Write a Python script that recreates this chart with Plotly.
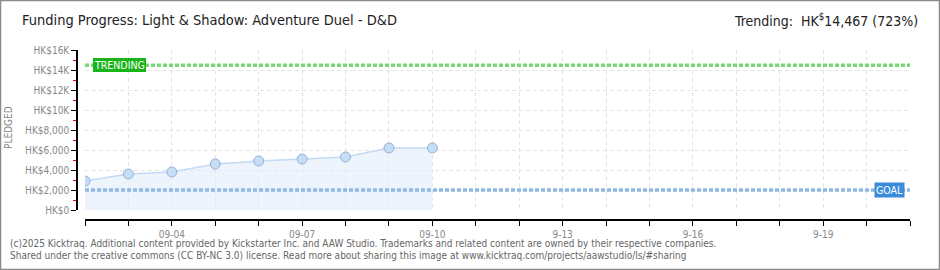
import plotly.graph_objects as go

# ---- data ----
dates = ["2025-09-02", "2025-09-03", "2025-09-04", "2025-09-05", "2025-09-06",
         "2025-09-07", "2025-09-08", "2025-09-09", "2025-09-10"]
pledged = [2900, 3600, 3800, 4600, 4900, 5100, 5300, 6200, 6200]
goal = 2000
trending = 14467

x_tick_dates = ["2025-09-04", "2025-09-07", "2025-09-10", "2025-09-13", "2025-09-16", "2025-09-19"]
x_tick_labels = ["09-04", "09-07", "09-10", "9-13", "9-16", "9-19"]
y_tick_vals = [0, 2000, 4000, 6000, 8000, 10000, 12000, 14000, 16000]
y_tick_labels = ["HK$0", "HK$2,000", "HK$4,000", "HK$6,000", "HK$8,000",
                 "HK$10K", "HK$12K", "HK$14K", "HK$16K"]

title_text = "Funding Progress: Light & Shadow: Adventure Duel - D&D"
trend_text = "Trending:  HK<sup>$</sup>14,467 (723%)"
footer1 = ("(c)2025 Kicktraq. Additional content provided by Kickstarter Inc. and AAW Studio. "
           "Trademarks and related content are owned by their respective companies.")
footer2 = ("Shared under the creative commons (CC BY-NC 3.0) license. Read more about sharing "
           "this image at www.kicktraq.com/projects/aawstudio/ls/#sharing")

# ---- geometry ----
W, H = 940, 270
ML, MR, MT, MB = 77, 30, 50, 50
PW, PH = W - ML - MR, H - MT - MB
xdom0 = (85 - ML) / PW
ydom0 = (220 - 210) / PH

def px(x):
    return (x - ML) / PW

def py(y):
    return (H - MB - y) / PH

FONT = "DejaVu Sans Condensed, DejaVu Sans"
DAY_MS = 86400000

fig = go.Figure()
fig.add_trace(go.Scatter(
    x=dates, y=pledged, mode="lines+markers",
    line=dict(color="#c2daf3", width=1.5),
    fill="tozeroy", fillcolor="rgba(225,236,250,0.6)",
    marker=dict(size=10, color="#c6ddf6", line=dict(color="#93b3d6", width=1)),
    hoverinfo="skip", showlegend=False,
))

shapes = [
    dict(type="line", xref="x domain", yref="y", x0=0, x1=1, y0=goal, y1=goal,
         line=dict(color="#8fb8e3", width=3.5, dash="4px,2px"), layer="above"),
    dict(type="line", xref="x domain", yref="y", x0=0, x1=1, y0=trending, y1=trending,
         line=dict(color="#78d878", width=3.5, dash="4px,2px"), layer="above"),
    dict(type="rect", xref="paper", yref="paper",
         x0=px(0), x1=px(W), y0=py(H), y1=py(0),
         line=dict(color="#8a8a8a", width=2.5), fillcolor="rgba(0,0,0,0)"),
]

annotations = [
    dict(text="TRENDING", xref="paper", yref="y", x=px(93), y=trending,
         xanchor="left", yanchor="middle", showarrow=False,
         font=dict(family=FONT, size=10.5, color="white"),
         bgcolor="#18b418", borderpad=1, borderwidth=0),
    dict(text="GOAL", xref="paper", yref="y", x=px(905), y=goal,
         xanchor="right", yanchor="middle", showarrow=False,
         font=dict(family=FONT, size=10.5, color="white"),
         bgcolor="#3a8bda", borderpad=1),
    dict(text=title_text, xref="paper", yref="paper", x=px(20), y=py(20),
         xanchor="left", yanchor="middle", showarrow=False,
         font=dict(family=FONT, size=14.5, color="#222222")),
    dict(text=trend_text, xref="paper", yref="paper", x=px(920), y=py(20),
         xanchor="right", yanchor="middle", showarrow=False,
         font=dict(family=FONT, size=14, color="#222222")),
    dict(text="PLEDGED", xref="paper", yref="paper", x=px(8), y=py(128),
         xanchor="center", yanchor="middle", showarrow=False, textangle=-90,
         font=dict(family=FONT, size=10, color="#888888")),
    dict(text=footer1, xref="paper", yref="paper", x=px(8), y=py(243),
         xanchor="left", yanchor="middle", showarrow=False,
         font=dict(family=FONT, size=10, color="#666666")),
    dict(text=footer2, xref="paper", yref="paper", x=px(8), y=py(256),
         xanchor="left", yanchor="middle", showarrow=False,
         font=dict(family=FONT, size=10, color="#666666")),
]

fig.update_layout(
    width=W, height=H,
    margin=dict(l=ML, r=MR, t=MT, b=MB),
    paper_bgcolor="white", plot_bgcolor="white",
    shapes=shapes, annotations=annotations,
    xaxis=dict(
        domain=[xdom0, 1], anchor="free", position=0,
        type="date", range=["2025-09-02", "2025-09-21"],
        tickmode="array", tickvals=x_tick_dates, ticktext=x_tick_labels,
        ticks="outside", ticklen=5, tickcolor="black",
        minor=dict(tickmode="linear", tick0="2025-09-02", dtick=DAY_MS,
                   ticks="outside", ticklen=5, tickcolor="black",
                   showgrid=True, gridcolor="#e3e3e3", griddash="4px,3px", gridwidth=1),
        showline=True, linecolor="black", linewidth=1.5,
        showgrid=True, gridcolor="#e3e3e3", griddash="4px,3px", gridwidth=1,
        tickfont=dict(family=FONT, size=10, color="#888888"),
        zeroline=False,
    ),
    yaxis=dict(
        domain=[ydom0, 1], anchor="free", position=0,
        range=[0, 16000],
        tickmode="array", tickvals=y_tick_vals, ticktext=y_tick_labels,
        ticks="outside", ticklen=5, tickcolor="black",
        minor=dict(tickmode="linear", tick0=1000, dtick=2000, ticks="outside",
                   ticklen=3, tickcolor="#e00000", showgrid=False),
        showline=True, linecolor="black", linewidth=1.5,
        showgrid=True, gridcolor="#e3e3e3", griddash="4px,3px", gridwidth=1,
        tickfont=dict(family=FONT, size=10, color="#888888"),
        zeroline=False,
    ),
)

fig.write_html("out.html")
